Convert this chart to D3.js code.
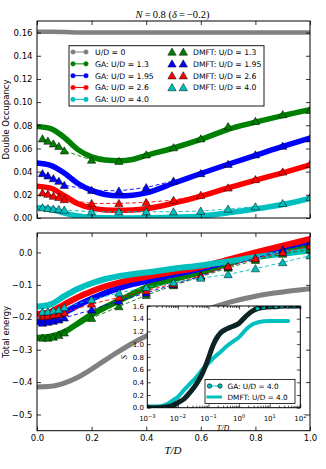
<!DOCTYPE html>
<html><head><meta charset="utf-8">
<script src="https://cdn.jsdelivr.net/npm/d3@7"></script>
<style>
body{margin:0;background:#fff}
svg{display:block}
text{font-family:"DejaVu Sans",sans-serif;fill:#000}
.serif{font-family:"Liberation Serif","DejaVu Serif",serif}
</style>
</head><body>
<svg id="c" width="326" height="469"></svg>
<script>
// ---------------- DATA ----------------
const T = [0,0.05,0.1,0.15,0.2,0.25,0.3,0.35,0.4,0.5,0.6,0.7,0.8,0.9,1.0];
const Tdmft = [0.02,0.04,0.06,0.08,0.1,0.2,0.3,0.4,0.5,0.6,0.7,0.8,0.9,1.0];

// double occupancy, GA
const dU0   = [0.1607,0.1607,0.1606,0.1601,0.16,0.16,0.16,0.16,0.16,0.16,0.16,0.16,0.16,0.16,0.16];
const dGA13 = [0.079,0.0772,0.0695,0.059,0.0527,0.0500,0.0494,0.0505,0.054,0.0604,0.0678,0.0765,0.0827,0.0884,0.0935];
const dGA195= [0.0475,0.0455,0.0388,0.0298,0.0238,0.0203,0.0192,0.0197,0.0217,0.0300,0.0384,0.0464,0.054,0.0618,0.0690];
const dGA26 = [0.0275,0.0257,0.0192,0.0122,0.0085,0.0070,0.0066,0.0069,0.0080,0.0128,0.0189,0.026,0.0326,0.039,0.0458];
const dGA40 = [0.0089,0.0076,0.0042,0.0017,0.0006,0.0002,0.0001,0.0001,0.0002,0.0006,0.0018,0.0045,0.0078,0.0117,0.0170];
// double occupancy, DMFT
const dDM13 = [0.0684,0.0664,0.064,0.0618,0.058,0.050,0.049,0.0546,0.0607,0.0684,0.079,0.0835,0.0893,0.093];
const dDM195= [0.0384,0.0364,0.034,0.0318,0.0283,0.024,0.0234,0.0263,0.032,0.0384,0.0464,0.0546,0.062,0.0684];
const dDM26 = [0.0217,0.0206,0.0189,0.0178,0.016,0.0126,0.0126,0.0135,0.0154,0.0197,0.026,0.0332,0.0398,0.0464];
const dDM40 = [0.0089,0.0083,0.0077,0.0074,0.0069,0.0054,0.0054,0.0054,0.0054,0.006,0.0077,0.0097,0.0126,0.0178];

// total energy, GA
const eU0   = [-0.415,-0.413,-0.403,-0.385,-0.36,-0.332,-0.305,-0.28,-0.258,-0.218,-0.183,-0.155,-0.135,-0.122,-0.112];
const eGA13 = [-0.263,-0.259,-0.245,-0.219,-0.192,-0.169,-0.149,-0.128,-0.108,-0.083,-0.061,-0.034,-0.008,0.008,0.02];
const eGA195= [-0.215,-0.208,-0.186,-0.163,-0.143,-0.125,-0.11,-0.098,-0.088,-0.068,-0.05,-0.027,-0.004,0.017,0.036];
const eGA26 = [-0.19,-0.183,-0.16,-0.138,-0.12,-0.105,-0.093,-0.083,-0.075,-0.06,-0.045,-0.022,0.0,0.021,0.042];
const eGA40 = [-0.167,-0.16,-0.135,-0.112,-0.095,-0.082,-0.073,-0.067,-0.062,-0.05,-0.04,-0.028,-0.015,-0.004,0.006];
// total energy, DMFT
const eDM13 = [-0.264,-0.264,-0.261,-0.256,-0.248,-0.203,-0.167,-0.132,-0.102,-0.075,-0.048,-0.024,-0.005,0.01];
const eDM195= [-0.218,-0.215,-0.212,-0.208,-0.202,-0.177,-0.15,-0.125,-0.099,-0.072,-0.044,-0.018,0.008,0.026];
const eDM26 = [-0.198,-0.196,-0.193,-0.191,-0.186,-0.159,-0.139,-0.118,-0.097,-0.072,-0.043,-0.019,0.0,0.02];
const eDM40 = [-0.184,-0.183,-0.18,-0.177,-0.17,-0.146,-0.125,-0.108,-0.093,-0.079,-0.068,-0.05,-0.031,-0.01];

// inset: entropy, U/D = 4.0
const sT_GA = [0.001,0.0025,0.004,0.0063,0.01,0.016,0.025,0.04,0.063,0.1,0.126,0.16,0.2,0.25,0.4,0.63,1,1.6,2.5,4,6.3,10,16,25,40,63,100];
const sGA   = [0.0,0.0,0.01,0.03,0.08,0.14,0.24,0.37,0.54,0.78,0.92,1.04,1.12,1.18,1.24,1.28,1.33,1.43,1.51,1.56,1.58,1.59,1.59,1.6,1.6,1.6,1.6];
const sT_DM = [0.001,0.002,0.0032,0.005,0.007,0.01,0.016,0.025,0.04,0.063,0.1,0.16,0.25,0.4,0.63,1,1.6,2.5,4,6.3,10,20,40];
const sDM   = [0.02,0.02,0.03,0.07,0.12,0.17,0.28,0.38,0.48,0.6,0.7,0.8,0.88,0.97,1.04,1.11,1.22,1.3,1.34,1.36,1.365,1.365,1.365];

const xTicks = [0,0.2,0.4,0.6,0.8,1.0];
const dTicks = [0,0.02,0.04,0.06,0.08,0.10,0.12,0.14,0.16];
const eTicks = [-0.5,-0.4,-0.3,-0.2,-0.1,0.0];
const sTicks = [0,0.2,0.4,0.6,0.8,1.0,1.2,1.4,1.6];
const sDecades = [-3,-2,-1,0,1,2];

const legendGA = ["U/D = 0","GA: U/D = 1.3","GA: U/D = 1.95","GA: U/D = 2.6","GA: U/D = 4.0"];
const legendDM = ["DMFT: U/D = 1.3","DMFT: U/D = 1.95","DMFT: U/D = 2.6","DMFT: U/D = 4.0"];
const legendInset = ["GA: U/D = 4.0","DMFT: U/D = 4.0"];

// ---------------- STYLE ----------------
const C = ['#808080','#008000','#0000ff','#ff0000','#00bfbf'];
const svg = d3.select('#c');
const L = 37, R = 310;
const x = d3.scaleLinear().domain([0,1]).range([L,R]);
const yD = d3.scaleLinear().domain([0,0.17]).range([218,21]);
const yE = d3.scaleLinear().domain([-0.55,0.06]).range([430.7,233]);

const defs = svg.append('defs');
function clip(id, x0, y0, w, h){
  defs.append('clipPath').attr('id',id).append('rect').attr('x',x0).attr('y',y0).attr('width',w).attr('height',h);
}
clip('cTop', L, 21, R-L, 197);
clip('cBot', L, 233, R-L, 197.7);

function frame(g, x0, y0, x1, y1){
  g.append('rect').attr('x',x0).attr('y',y0).attr('width',x1-x0).attr('height',y1-y0)
   .attr('fill','none').attr('stroke','#000').attr('stroke-width',1);
}
function axes(yS, yTicks, fmt, showX){
  const [yb, yt] = yS.range();
  const ax = svg.append('g');
  const fs = '8.5px';
  const gl = ax.append('g').attr('transform',`translate(${L},0)`)
    .call(d3.axisLeft(yS).tickValues(yTicks).tickSizeInner(-4).tickSizeOuter(0).tickPadding(4.5).tickFormat(d3.format(fmt)));
  gl.selectAll('text').style('font-size',fs);
  const gr = ax.append('g').attr('transform',`translate(${R},0)`)
    .call(d3.axisRight(yS).tickValues(yTicks).tickSizeInner(-4).tickSizeOuter(0).tickFormat(''));
  const gb = ax.append('g').attr('transform',`translate(0,${yb})`)
    .call(d3.axisBottom(x).tickValues(xTicks).tickSizeInner(-4).tickSizeOuter(0).tickPadding(4).tickFormat(showX? d3.format('.1f') : ''));
  gb.selectAll('text').style('font-size',fs);
  const gt = ax.append('g').attr('transform',`translate(0,${yt})`)
    .call(d3.axisTop(x).tickValues(xTicks).tickSizeInner(-4).tickSizeOuter(0).tickFormat(''));
  ax.selectAll('.domain').remove();
  ax.selectAll('line').attr('stroke','#000').attr('stroke-width',0.8);
  frame(ax, L, yt, R, yb);
}

function gaLine(g, xs, ys, xS, yS, color, w){
  g.append('path').datum(xs.map((t,i)=>[t,ys[i]]))
   .attr('d', d3.line().x(d=>xS(d[0])).y(d=>yS(d[1])).curve(d3.curveMonotoneX))
   .attr('fill','none').attr('stroke',color).attr('stroke-width',w)
   .attr('stroke-linecap','round').attr('stroke-linejoin','round');
}
const tri = d3.symbol(d3.symbolTriangle, 30);
function dmft(g, xs, ys, yS, color){
  const pts = xs.map((t,i)=>[t,ys[i]]);
  g.append('path').datum(pts)
   .attr('d', d3.line().x(d=>x(d[0])).y(d=>yS(d[1])))
   .attr('fill','none').attr('stroke',color).attr('stroke-width',0.9).attr('stroke-dasharray','4,2.5');
  g.selectAll(null).data(pts).enter().append('path')
   .attr('d', tri).attr('transform', d=>`translate(${x(d[0])},${yS(d[1])+0.8})`)
   .attr('fill',color).attr('stroke','#000').attr('stroke-width',0.5);
}

// ---------------- TOP PANEL ----------------
const gTop = svg.append('g').attr('clip-path','url(#cTop)');
[dU0,dGA13,dGA195,dGA26,dGA40].forEach((ys,i)=>gaLine(gTop, T, ys, x, yD, C[i], i===0?4.5:5.5));
[dDM13,dDM195,dDM26,dDM40].forEach((ys,i)=>dmft(gTop, Tdmft, ys, yD, C[i+1]));
axes(yD, dTicks, '.2f', false);

// title
const title = svg.append('text').attr('class','serif').attr('x',172.5).attr('y',17.5)
  .attr('text-anchor','middle').style('font-size','10.5px');
title.append('tspan').attr('font-style','italic').text('N');
title.append('tspan').text('\u2009=\u20090.8 (');
title.append('tspan').attr('font-style','italic').text('δ');
title.append('tspan').text('\u2009=\u2009\u22120.2)');

// legend
const lg = svg.append('g');
lg.append('rect').attr('x',69).attr('y',45.7).attr('width',195).attr('height',60.3)
  .attr('fill','#fff').attr('stroke','#000').attr('stroke-width',0.9);
const rowY = i => 52 + i*11.85;
legendGA.forEach((t,i)=>{
  const yy = rowY(i);
  lg.append('line').attr('x1',73).attr('x2',86).attr('y1',yy).attr('y2',yy).attr('stroke',C[i]).attr('stroke-width',1);
  [73,86].forEach(cx=>lg.append('circle').attr('cx',cx).attr('cy',yy).attr('r',2.3).attr('fill',C[i]).attr('stroke',C[i]).attr('stroke-width',0.4));
  lg.append('text').attr('x',95).attr('y',yy+2.8).style('font-size','7.7px').text(t);
});
legendDM.forEach((t,i)=>{
  const yy = rowY(i);
  [172,183.3].forEach(cx=>lg.append('path').attr('d',tri).attr('transform',`translate(${cx},${yy+0.8})`)
    .attr('fill',C[i+1]).attr('stroke','#000').attr('stroke-width',0.5));
  lg.append('text').attr('x',193).attr('y',yy+2.8).style('font-size','7.7px').text(t);
});

// y label
svg.append('text').attr('transform','translate(8.5,119.5) rotate(-90)').attr('text-anchor','middle')
  .style('font-size','8.5px').text('Double Occupancy');

// ---------------- BOTTOM PANEL ----------------
const gBot = svg.append('g').attr('clip-path','url(#cBot)');
[eU0,eGA13,eGA195,eGA26,eGA40].forEach((ys,i)=>gaLine(gBot, T, ys, x, yE, C[i], i===0?5:6));
[eDM13,eDM195,eDM26,eDM40].forEach((ys,i)=>dmft(gBot, Tdmft, ys, yE, C[i+1]));
axes(yE, eTicks, '.1f', true);

svg.append('text').attr('transform','translate(8.5,332) rotate(-90)').attr('text-anchor','middle')
  .style('font-size','8.5px').text('Total energy');
svg.append('text').attr('class','serif').attr('x',173).attr('y',454).attr('text-anchor','middle')
  .attr('font-style','italic').style('font-size','11px').text('T/D');

// ---------------- INSET ----------------
const iL = 147.3, iR = 300.3, iT = 306, iB = 407.7;
const xI = d3.scaleLog().domain([1e-3,1e2]).range([iL,iR]);
const yI = d3.scaleLinear().domain([0,1.6]).range([iB,iT]);
clip('cIn', iL, iT, iR-iL, iB-iT);
svg.append('rect').attr('x',iL).attr('y',iT).attr('width',iR-iL).attr('height',iB-iT).attr('fill','#fff');
const gIn = svg.append('g').attr('clip-path','url(#cIn)');
gaLine(gIn, sT_DM, sDM, xI, yI, C[4], 4);
gaLine(gIn, sT_GA, sGA, xI, yI, '#0c2424', 5);
gIn.selectAll(null).data(sT_GA.map((t,i)=>[t,sGA[i]]).filter(d=>d[0]>=4)).enter().append('circle')
  .attr('cx',d=>xI(d[0])).attr('cy',d=>yI(d[1])).attr('r',2.2)
  .attr('fill',C[4]).attr('stroke','#000').attr('stroke-width',0.6);

const ia = svg.append('g');
const minor = [];
sDecades.slice(0,-1).forEach(k=>{ for(let m=2;m<=9;m++) minor.push(m*Math.pow(10,k)); });
const major = sDecades.map(k=>Math.pow(10,k));
ia.append('g').attr('transform',`translate(0,${iB})`).call(d3.axisBottom(xI).tickValues(major).tickSizeInner(-3.5).tickSizeOuter(0).tickFormat(''));
ia.append('g').attr('transform',`translate(0,${iB})`).call(d3.axisBottom(xI).tickValues(minor).tickSizeInner(-2).tickSizeOuter(0).tickFormat(''));
ia.append('g').attr('transform',`translate(0,${iT})`).call(d3.axisTop(xI).tickValues(major).tickSizeInner(-3.5).tickSizeOuter(0).tickFormat(''));
ia.append('g').attr('transform',`translate(0,${iT})`).call(d3.axisTop(xI).tickValues(minor).tickSizeInner(-2).tickSizeOuter(0).tickFormat(''));
const gyl = ia.append('g').attr('transform',`translate(${iL},0)`).call(d3.axisLeft(yI).tickValues(sTicks).tickSizeInner(-3.5).tickSizeOuter(0).tickPadding(3.3).tickFormat(d3.format('.1f')));
gyl.selectAll('text').style('font-size','7px');
ia.append('g').attr('transform',`translate(${iR},0)`).call(d3.axisRight(yI).tickValues(sTicks).tickSizeInner(-3.5).tickSizeOuter(0).tickFormat(''));
ia.selectAll('.domain').remove();
ia.selectAll('line').attr('stroke','#000').attr('stroke-width',0.7);
frame(ia, iL, iT, iR, iB);
sDecades.forEach(k=>{
  const t = ia.append('text').attr('x',xI(Math.pow(10,k))).attr('y',420.5).attr('text-anchor','middle').style('font-size','7px');
  t.append('tspan').text('10');
  t.append('tspan').attr('dy',-3).style('font-size','5px').text(k<0?'\u2212'+(-k):String(k));
});
svg.append('text').attr('class','serif').attr('x',223).attr('y',430.5).attr('text-anchor','middle')
  .attr('font-style','italic').style('font-size','8px').text('T/D');
svg.append('text').attr('class','serif').attr('transform','translate(126.5,357) rotate(-90)').attr('text-anchor','middle')
  .attr('font-style','italic').style('font-size','8.5px').text('S');

// inset legend
const il = svg.append('g');
il.append('rect').attr('x',205).attr('y',379.5).attr('width',90).attr('height',24)
  .attr('fill','#fff').attr('stroke','#000').attr('stroke-width',0.8);
il.append('line').attr('x1',209.5).attr('x2',220).attr('y1',386).attr('y2',386).attr('stroke',C[4]).attr('stroke-width',1);
[209.5,220].forEach(cx=>il.append('circle').attr('cx',cx).attr('cy',386).attr('r',2.2).attr('fill',C[4]).attr('stroke','#000').attr('stroke-width',0.6));
il.append('line').attr('x1',206.5).attr('x2',222).attr('y1',397).attr('y2',397).attr('stroke',C[4]).attr('stroke-width',3);
legendInset.forEach((t,i)=>il.append('text').attr('x',227.5).attr('y',388.6+i*11).style('font-size','7.3px').text(t));
</script>
</body></html>
